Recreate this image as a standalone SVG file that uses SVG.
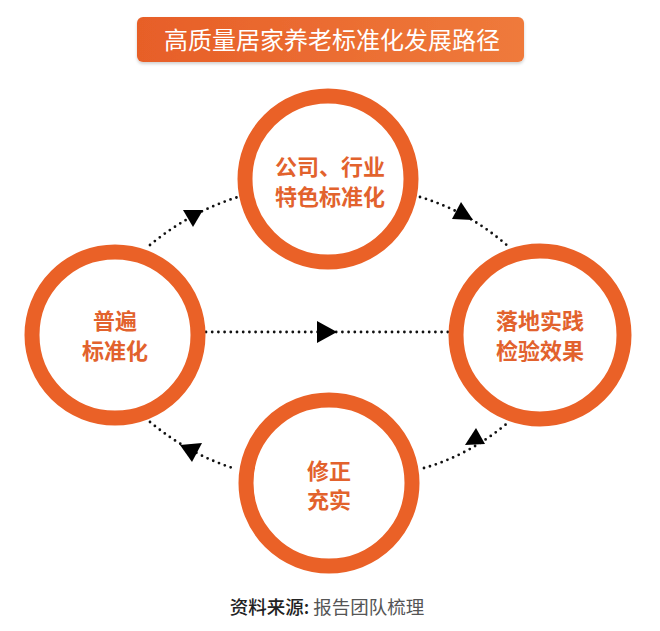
<svg xmlns="http://www.w3.org/2000/svg" width="660" height="631" viewBox="0 0 660 631">
<defs>
<linearGradient id="tg" x1="0" y1="0" x2="1" y2="0">
<stop offset="0" stop-color="#E75F28"/>
<stop offset="1" stop-color="#EF7A3B"/>
</linearGradient>
<filter id="sh" x="-5%" y="-20%" width="110%" height="150%">
<feDropShadow dx="0" dy="2" stdDeviation="1.5" flood-color="#000" flood-opacity="0.18"/>
</filter>
</defs>
<style>
.ring{fill:#fff;stroke:#EA6127;stroke-width:15}
.lbl{font-family:"Noto Sans CJK SC","Noto Sans",sans-serif;font-size:22px;font-weight:bold;fill:#E2622D;text-anchor:middle}
.dot{fill:none;stroke:#111;stroke-width:2.8;stroke-linecap:round;stroke-dasharray:0 6.2}
.ah{fill:#000}
</style>
<rect width="660" height="631" fill="#fff"/>
<g id="title">
<rect x="137" y="17" width="387" height="45" rx="6" fill="url(#tg)" filter="url(#sh)"/>
<text x="332" y="48.5" font-family="'Noto Sans CJK SC','Noto Sans',sans-serif" font-size="24" fill="#fff" text-anchor="middle">高质量居家养老标准化发展路径</text>
</g>
<g id="connectors">
<path class="dot" d="M150,245 Q190,212 238,197"/>
<path class="dot" d="M420,197 Q470,212 510,248"/>
<path class="dot" d="M206,332 L450,332"/>
<path class="dot" d="M150,422 Q190,455 236,469"/>
<path class="dot" d="M424,468 Q470,455 510,421"/>
<polygon class="ah" points="183,210 203,210 193,227"/>
<polygon class="ah" points="452,219 461,202 473,220"/>
<polygon class="ah" points="317,321 317,343 337,332"/>
<polygon class="ah" points="180,445 202,443 192,462"/>
<polygon class="ah" points="465,445 476,428 485,444"/>
</g>
<g id="node-top">
<circle class="ring" cx="328" cy="179" r="83"/>
<text class="lbl" x="330" y="175">公司、行业</text>
<text class="lbl" x="330" y="205">特色标准化</text>
</g>
<g id="node-left">
<circle class="ring" cx="115" cy="335" r="83"/>
<text class="lbl" x="115" y="329">普遍</text>
<text class="lbl" x="115" y="359">标准化</text>
</g>
<g id="node-right">
<circle class="ring" cx="540" cy="335" r="84"/>
<text class="lbl" x="540" y="329">落地实践</text>
<text class="lbl" x="540" y="359">检验效果</text>
</g>
<g id="node-bottom">
<circle class="ring" cx="329" cy="483" r="83"/>
<text class="lbl" x="329" y="479">修正</text>
<text class="lbl" x="329" y="508">充实</text>
</g>
<g id="footer">
<text x="327" y="614" font-family="'Noto Sans CJK SC','Noto Sans',sans-serif" font-size="18.5" text-anchor="middle"><tspan fill="#222" font-weight="500">资料来源:</tspan><tspan fill="#555"> 报告团队梳理</tspan></text>
</g>
</svg>
